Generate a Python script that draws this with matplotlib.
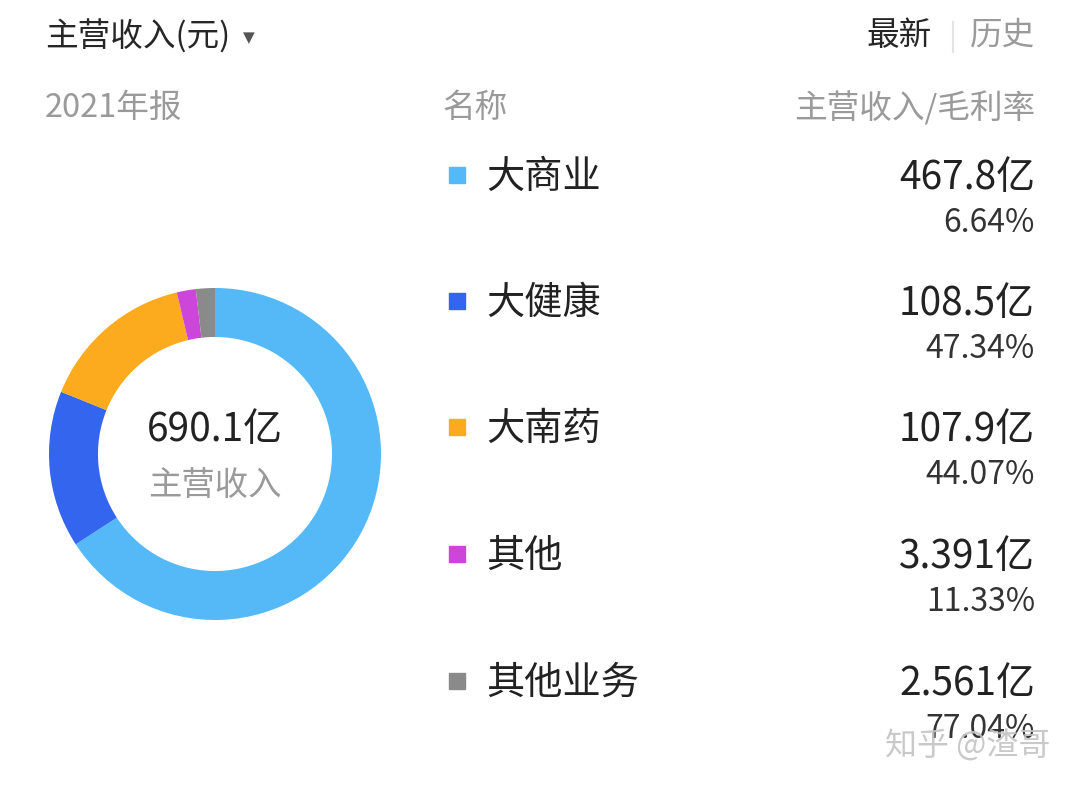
import matplotlib
matplotlib.use("Agg")
import matplotlib.pyplot as plt
from matplotlib.lines import Line2D

plt.rcParams['font.family'] = ['Noto Sans CJK SC', 'DejaVu Sans']

# ---- data ----
segments = ['大商业', '大健康', '大南药', '其他', '其他业务']
revenue = [467.8, 108.5, 107.9, 3.391, 2.561]          # 亿元
revenue_labels = ['467.8亿', '108.5亿', '107.9亿', '3.391亿', '2.561亿']
margin_labels = ['6.64%', '47.34%', '44.07%', '11.33%', '77.04%']
colors = ['#55B9F7', '#3465EE', '#FCAA1E', '#CC46DA', '#8A8A8A']
total_label = '690.1亿'
center_caption = '主营收入'
title = '主营收入(元)'
period = '2021年报'
col_name = '名称'
col_value = '主营收入/毛利率'

# the app enforces a minimum visible slice size for tiny segments
MIN_SHARE = 0.0185
total = sum(revenue)
shares = [v / total for v in revenue]
small = [s < MIN_SHARE for s in shares]
n_small = sum(small)
big_sum = sum(s for s, sm in zip(shares, small) if not sm)
display = [MIN_SHARE if sm else s * (1 - n_small * MIN_SHARE) / big_sum
           for s, sm in zip(shares, small)]

W, H = 1080, 793
fig = plt.figure(figsize=(W / 100, H / 100), dpi=100)
fig.patch.set_facecolor('white')


def fx(x):
    return x / W


def fy(y):
    return 1 - y / H


# ---- donut ----
cx, cy, R = 215, 454, 166
ax = fig.add_axes([fx(cx - R), fy(cy + R), 2 * R / W, 2 * R / H])
ax.pie(display, colors=colors, startangle=90, counterclock=False,
       radius=1.0, wedgeprops=dict(width=0.295, linewidth=0))
ax.set_xlim(-1, 1)
ax.set_ylim(-1, 1)
ax.set_aspect('equal')
ax.axis('off')

ax.text(0, 0.145, total_label, ha='center', va='center', fontsize=28,
        color='#222222')
ax.text(0, -0.19, center_caption, ha='center', va='center', fontsize=24,
        color='#9a9a9a')

# ---- header ----
fig.text(fx(45), fy(37), title, ha='left', va='center', fontsize=23.5,
         color='#262626')
fig.text(fx(249), fy(38), '▼', ha='center', va='center', fontsize=11,
         color='#555555', family='DejaVu Sans')
fig.text(fx(1035), fy(36), '历史', ha='right', va='center', fontsize=23.5,
         color='#9a9a9a')
fig.text(fx(932), fy(36), '最新', ha='right', va='center', fontsize=23.5,
         color='#262626')
fig.add_artist(Line2D([fx(953), fx(953)], [fy(22), fy(52)],
                      color='#e3e3e3', lw=1.5))

fig.text(fx(45), fy(108), period, ha='left', va='center', fontsize=23.5,
         color='#9a9a9a')
fig.text(fx(442), fy(108), col_name, ha='left', va='center', fontsize=23.5,
         color='#9a9a9a')
fig.text(fx(1035), fy(108), col_value, ha='right', va='center', fontsize=23.5,
         color='#9a9a9a')

# ---- legend rows ----
row_y = [177, 303, 429, 556, 683]
for i, name in enumerate(segments):
    y = row_y[i]
    fig.add_artist(Line2D([fx(457)], [fy(y - 2)], marker='s', markersize=11,
                          color=colors[i], linestyle='none'))
    fig.text(fx(486), fy(y), name, ha='left', va='center', fontsize=27.5,
             color='#222222')
    fig.text(fx(1035), fy(y + 1), revenue_labels[i], ha='right', va='center',
             fontsize=28, color='#222222')
    fig.text(fx(1035), fy(y + 46), margin_labels[i], ha='right', va='center',
             fontsize=23, color='#333333')

# ---- watermark ----
fig.text(fx(968), fy(746), '知乎 @渣哥', ha='center', va='center', fontsize=23,
         color='#c4c4c4', alpha=0.9)

fig.savefig('out.png', dpi=100, facecolor='white')
